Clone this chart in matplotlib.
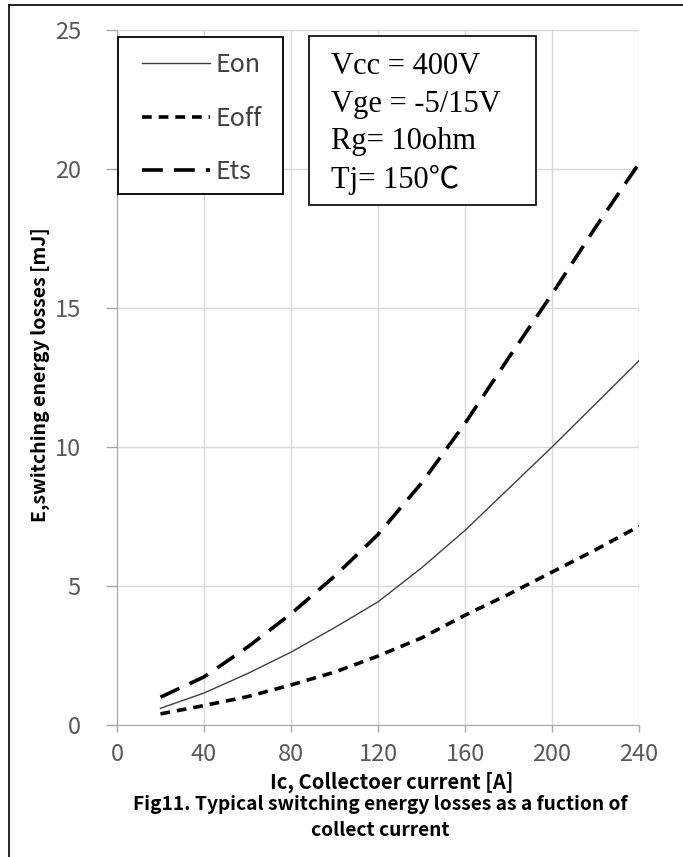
import matplotlib
matplotlib.use("Agg")
import matplotlib.pyplot as plt
from matplotlib.patches import Rectangle
from matplotlib.lines import Line2D

# dane
ic = [20, 40, 60, 80, 100, 120, 140, 160, 180, 200, 220, 240]
eon = [0.6, 1.15, 1.85, 2.62, 3.5, 4.43, 5.65, 7.0, 8.5, 10.0, 11.55, 13.1]
eoff = [0.4, 0.7, 1.02, 1.44, 1.9, 2.48, 3.13, 3.95, 4.7, 5.5, 6.3, 7.15]
ets = [1.0, 1.73, 2.8, 4.0, 5.35, 6.85, 8.7, 10.85, 13.2, 15.5, 17.9, 20.2]

x_ticks = [0, 40, 80, 120, 160, 200, 240]
y_ticks = [0, 5, 10, 15, 20, 25]
warunki = ["Vcc = 400V", "Vge = -5/15V", "Rg= 10ohm", "Tj= 150\u2103"]

plt.rcParams['lines.scale_dashes'] = False
sans = ['Noto Sans CJK SC', 'DejaVu Sans']
serif = ['Liberation Serif', 'Noto Sans CJK SC']

W, H = 683, 857
fig = plt.figure(figsize=(W / 100, H / 100), dpi=100)
ax = fig.add_axes([117 / W, 1 - 725 / H, (639 - 117) / W, (725 - 30) / H])

ax.plot(ic, eon, color='#404040', lw=1.0, label='Eon')
ax.plot(ic, eoff, color='black', lw=2.6, dashes=(7, 5), label='Eoff')
ax.plot(ic, ets, color='black', lw=2.6, dashes=(15, 8), label='Ets')

ax.set_xlim(0, 240)
ax.set_ylim(0, 25)
ax.set_xticks(x_ticks)
ax.set_yticks(y_ticks)
ax.grid(True, color='#d9d9d9', lw=1.0)
for s in ['top', 'right']:
    ax.spines[s].set_visible(False)
for s in ['left', 'bottom']:
    ax.spines[s].set_color('#a6a6a6')
ax.tick_params(axis='x', length=5, width=1, color='#a6a6a6', pad=8, labelsize=17, labelcolor='#595959')
ax.tick_params(axis='y', length=8, width=1, color='#a6a6a6', pad=18, labelsize=17, labelcolor='#595959')
for t in ax.get_xticklabels() + ax.get_yticklabels():
    t.set_family(sans)
    t.set_fontweight('light')

# legenda bez ramki, ramke rysuje osobno (w osiach, pod legenda)
ax.add_patch(Rectangle((118 / W, 1 - 194 / H), (283 - 118) / W, (194 - 37) / H,
                       transform=fig.transFigure, facecolor='white', clip_on=False,
                       edgecolor='black', lw=1.3, zorder=4))
leg = ax.legend(loc='upper left', bbox_to_anchor=(142 / W, 1 - 52 / H), bbox_transform=fig.transFigure,
                borderaxespad=0, frameon=False, borderpad=0,
                handlelength=2.7, handletextpad=0.25, labelspacing=1.1,
                prop={'family': sans, 'size': 18})
leg.set_zorder(5)
for t in leg.get_texts():
    t.set_color('#404040')

# ramka z warunkami pomiaru
fig.add_artist(Rectangle((309 / W, 1 - 205 / H), (536 - 309) / W, (205 - 36) / H,
                         transform=fig.transFigure, fill=True, facecolor='white',
                         edgecolor='black', lw=1.2, zorder=5))
for i, txt in enumerate(warunki):
    fig.text(331 / W, 1 - (67 + i * 37.5) / H, txt, family=serif, size=22,
             va='center', ha='left', zorder=6)

fig.text(392 / W, 1 - 782 / H, 'Ic, Collectoer current [A]', family=sans,
         weight='bold', size=14.5, ha='center', va='center')
fig.text(40 / W, 1 - 375 / H, 'E,switching energy losses [mJ]', family=sans,
         weight='bold', size=14, ha='center', va='center', rotation=90)
fig.text(380 / W, 1 - 804 / H, 'Fig11. Typical switching energy losses as a fuction of',
         family=sans, weight='bold', size=13.8, ha='center', va='center')
fig.text(380 / W, 1 - 831 / H, 'collect current', family=sans, weight='bold',
         size=13.8, ha='center', va='center')

# obramowanie rysunku (lewa i gorna krawedz)
fig.add_artist(Line2D([9 / W, 9 / W], [0, 1 - 5 / H], transform=fig.transFigure, color='black', lw=1.2))
fig.add_artist(Line2D([9 / W, 1], [1 - 5 / H, 1 - 5 / H], transform=fig.transFigure, color='black', lw=1.2))

fig.savefig('out.png', dpi=100)
